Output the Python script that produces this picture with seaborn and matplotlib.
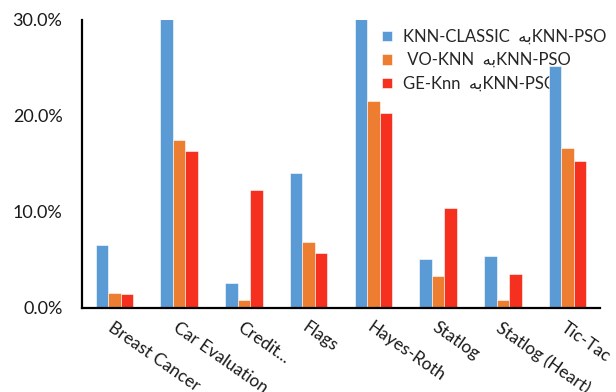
import matplotlib
matplotlib.use("Agg")
import matplotlib.pyplot as plt
from matplotlib.ticker import FuncFormatter
import seaborn as sns
import pandas as pd

datasets = ["Breast Cancer", "Car Evaluation", "Credit...", "Flags",
            "Hayes-Roth", "Statlog", "Statlog (Heart)", "Tic-Tac"]
knn_classic = [6.6, 31.5, 2.6, 14.1, 31.5, 5.1, 5.4, 25.2]
vo_knn = [1.6, 17.5, 0.85, 6.9, 21.6, 3.3, 0.85, 16.7]
ge_knn = [1.5, 16.4, 12.3, 5.7, 20.3, 10.4, 3.5, 15.3]

# Arabic "به" written in presentation forms, visual order
ba = "\ufeea\ufe91"
series_names = ["KNN-CLASSIC  " + ba + "KNN-PSO",
                " VO-KNN  " + ba + "KNN-PSO",
                "GE-Knn  " + ba + "KNN-PSO"]
palette = ["#5B9BD5", "#ED7D31", "#F5301E"]

rows = []
for name, vals in zip(series_names, [knn_classic, vo_knn, ge_knn]):
    for d, v in zip(datasets, vals):
        rows.append({"dataset": d, "series": name, "value": v})
df = pd.DataFrame(rows)

sns.set_theme(style="white")
plt.rcParams["font.family"] = ["Lato", "DejaVu Sans"]

fig = plt.figure(figsize=(6.16, 3.92), dpi=100)
ax = fig.add_axes([82 / 616, 1 - 308 / 392, 518 / 616, 288 / 392])

sns.barplot(data=df, x="dataset", y="value", hue="series", order=datasets,
            hue_order=series_names, palette=palette, width=0.58,
            saturation=1, edgecolor="white", linewidth=0.4, ax=ax, zorder=3)

ax.set_ylim(0, 30)
ax.set_xlim(-0.5, 7.5)
ax.set_yticks([0, 10, 20, 30])
ax.yaxis.set_major_formatter(FuncFormatter(lambda v, p: f"{v:.1f}%"))
ax.set_xlabel("")
ax.set_ylabel("")

for s in ["top", "right"]:
    ax.spines[s].set_visible(False)
for s in ["left", "bottom"]:
    ax.spines[s].set_color("black")
    ax.spines[s].set_linewidth(1.6)
    ax.spines[s].set_zorder(4)

ax.tick_params(axis="y", length=0, pad=14, labelsize=13, labelcolor="#1a1a1a")
ax.tick_params(axis="x", length=0, pad=8, labelsize=12.5, labelcolor="#1a1a1a")
for lbl in ax.get_xticklabels():
    lbl.set_rotation(-35)
    lbl.set_ha("left")
    lbl.set_va("top")
    lbl.set_rotation_mode("anchor")

leg = ax.legend(loc="upper left", bbox_to_anchor=(375 / 616, 1 - 22 / 392),
                bbox_transform=fig.transFigure, frameon=False, fontsize=12,
                handlelength=0.6, handleheight=0.6, handletextpad=0.7,
                labelspacing=0.45, borderaxespad=0)
leg.set_zorder(1)

fig.savefig("out.png", dpi=100)
